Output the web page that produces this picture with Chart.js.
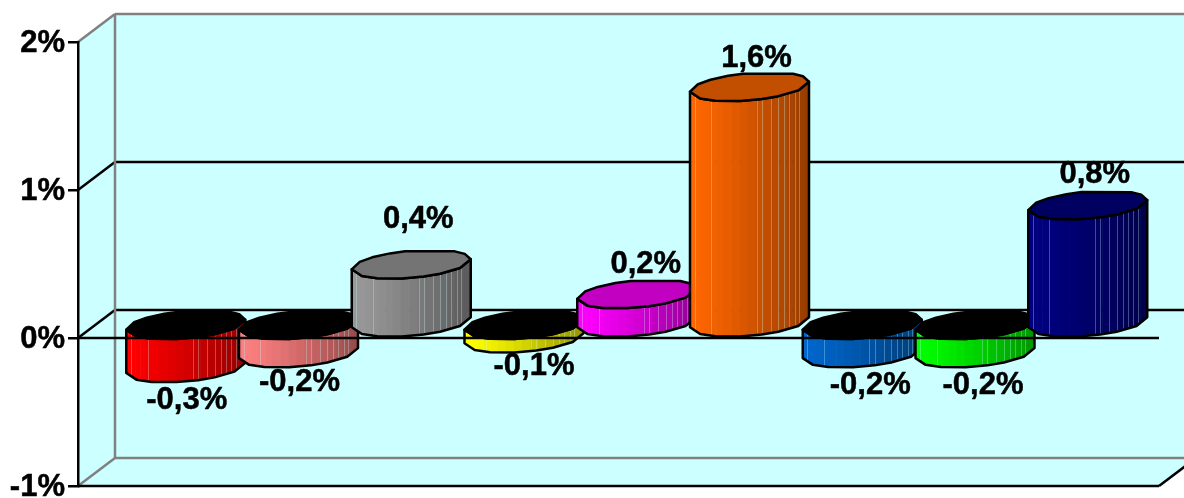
<!DOCTYPE html>
<html lang="fr">
<head>
    <meta charset="UTF-8">
    <title>Graphique</title>
    <style>
        html, body { margin: 0; padding: 0; background: #fff; overflow: hidden; }
        canvas { display: block; }
    </style>
</head>
<body>
    <canvas id="chart" width="1184" height="498"></canvas>

    <script src="https://cdn.jsdelivr.net/npm/chart.js@4"></script>
    <script>
        // Valeurs
        const valeurs = [-0.3, -0.2, 0.4, -0.1, 0.2, 1.6, -0.2, -0.2, 0.8];
        const couleurs = ['#ff0000', '#ff8080', '#999999', '#ffff00', '#ff00ff', '#ff6600', '#0066cc', '#00ff00', '#000080'];
        const graduations = [-1, 0, 1, 2];

        // Perspective du fond et du cylindre
        const PROF_X = 37, PROF_Y = -28;
        const ELL_B = 13.6, ELL_S = -5, ELL_H = 14.5;
        const FOND = '#ccffff', GRIS = '#808080', NOIR = '#000000';
        const POLICE = 'bold 31px "Liberation Sans", Arial, sans-serif';

        // Sommets du contour (en degrés), irréguliers comme sur l'original
        const sommetsAvant = [180, 146, 125, 99, 78, 61, 35, 0];
        const sommetsArriere = [0, -26, -43, -96, -111, -131, -150, -180];

        // Petits décalages des étiquettes (la 3e est plus haute sur l'original)
        const decalagesEtiquettes = [[1, 18], [1, 15], [7, -59], [10, 14], [9, -44], [7, -43], [8, 18], [8, 18], [7, -45]];
        const facettesClaires = [157, 130, 83, 78, 69, 61, 54, 48, 40, 33];

        function ligne(ctx, x1, y1, x2, y2, couleur, largeur) {
            ctx.strokeStyle = couleur;
            ctx.lineWidth = largeur;
            ctx.beginPath();
            ctx.moveTo(x1, y1);
            ctx.lineTo(x2, y2);
            ctx.stroke();
        }

        function assombrir(hex, f) {
            const n = parseInt(hex.slice(1), 16);
            return `rgb(${((n >> 16) & 255) * f},${((n >> 8) & 255) * f},${(n & 255) * f})`;
        }

        function pointEllipse(cx, cy, a, deg) {
            const t = deg * Math.PI / 180;
            return [cx + a * Math.cos(t), cy + ELL_B * Math.sin(t) + ELL_S * Math.cos(t)];
        }

        // Le corps du cylindre : côté gauche, bas avant, côté droit
        function cheminCorps(ctx, cx, yHaut, yBas, a) {
            ctx.beginPath();
            sommetsAvant.forEach(d => {
                const p = pointEllipse(cx, yBas, a, d);
                ctx.lineTo(p[0], p[1]);
            });
            sommetsAvant.slice().reverse().forEach(d => {
                const p = pointEllipse(cx, yHaut, a, d);
                ctx.lineTo(p[0], p[1]);
            });
            ctx.closePath();
        }

        function dessinerCylindre(ctx, el) {
            const a = el.width / 2;
            const cx = el.x;
            const yHaut = Math.min(el.y, el.base) - ELL_H;
            const yBas = Math.max(el.y, el.base) - ELL_H;
            const couleur = el.options.backgroundColor;

            ctx.save();
            cheminCorps(ctx, cx, yHaut, yBas, a);
            ctx.clip();
            for (let d = 180; d > 0; d -= 8) {
                const x1 = cx + a * Math.cos(d * Math.PI / 180);
                const x2 = cx + a * Math.cos((d - 8) * Math.PI / 180);
                const frac = (x1 + x2) / 2 - (cx - a);
                ctx.fillStyle = assombrir(couleur, 1 - 0.42 * Math.pow(frac / (2 * a), 1.3));
                ctx.fillRect(x1, yHaut - 20, x2 - x1 + 0.6, yBas - yHaut + 60);
            }
            // Fentes claires entre les facettes
            facettesClaires.forEach(d => {
                const x = Math.round(cx + a * Math.cos(d * Math.PI / 180)) + 0.5;
                ligne(ctx, x, yHaut - 20, x, yBas + 40, 'rgba(204,255,255,0.3)', 1);
            });
            ctx.restore();

            cheminCorps(ctx, cx, yHaut, yBas, a);
            ctx.strokeStyle = NOIR;
            ctx.lineWidth = 2.5;
            ctx.lineJoin = 'round';
            ctx.stroke();

            // Le dessus, noir pour les valeurs négatives
            ctx.beginPath();
            sommetsArriere.concat(sommetsAvant).forEach(d => {
                const p = pointEllipse(cx, yHaut, a, d);
                ctx.lineTo(p[0], p[1]);
            });
            ctx.closePath();
            ctx.fillStyle = el.y > el.base ? NOIR : assombrir(couleur, 0.76);
            ctx.fill();
            ctx.stroke();
        }

        const decor3d = {
            id: 'decor3d',
            // Avant les axes, pour que l'axe vertical reste noir par-dessus le fond
            beforeDraw(chart) {
                const ctx = chart.ctx, y = chart.scales.y, g = chart.chartArea.left, d = chart.chartArea.right;
                const haut = y.getPixelForValue(graduations[graduations.length - 1]);
                const bas = y.getPixelForValue(graduations[0]);

                ctx.save();
                ctx.fillStyle = FOND;
                ctx.beginPath();
                ctx.moveTo(g, haut);
                ctx.lineTo(g + PROF_X, haut + PROF_Y);
                ctx.lineTo(d + PROF_X, haut + PROF_Y);
                ctx.lineTo(d + PROF_X, bas + PROF_Y);
                ctx.lineTo(d, bas);
                ctx.lineTo(g, bas);
                ctx.closePath();
                ctx.fill();

                graduations.slice(1, -1).forEach(v => {
                    const py = y.getPixelForValue(v);
                    ligne(ctx, g, py, g + PROF_X, py + PROF_Y, NOIR, 2.5);
                    ligne(ctx, g + PROF_X, py + PROF_Y, d + PROF_X, py + PROF_Y, NOIR, 2.5);
                });
                ligne(ctx, g, haut, g + PROF_X, haut + PROF_Y, GRIS, 2.5);
                ligne(ctx, g + PROF_X, haut + PROF_Y, d + PROF_X, haut + PROF_Y, GRIS, 2.5);
                ligne(ctx, g + PROF_X, haut + PROF_Y, g + PROF_X, bas + PROF_Y, GRIS, 2.5);
                ligne(ctx, g, bas, g + PROF_X, bas + PROF_Y, GRIS, 2.5);
                ligne(ctx, g + PROF_X, bas + PROF_Y, d + PROF_X, bas + PROF_Y, GRIS, 2.5);
                ligne(ctx, g, bas, d, bas, NOIR, 2.5);
                ligne(ctx, d, bas, d + PROF_X, bas + PROF_Y, NOIR, 2.5);
                ctx.restore();
            },
            // Les barres sont dessinées en cylindres plus bas
            beforeDatasetDraw() {
                return false;
            },
            afterDatasetsDraw(chart) {
                const ctx = chart.ctx, y = chart.scales.y;
                const barres = chart.getDatasetMeta(0).data;
                ctx.save();
                barres.forEach(el => dessinerCylindre(ctx, el));

                const zero = y.getPixelForValue(0);
                ligne(ctx, chart.chartArea.left, zero, chart.chartArea.right, zero, NOIR, 2.5);

                ctx.font = POLICE;
                ctx.fillStyle = NOIR;
                ctx.strokeStyle = NOIR;
                ctx.lineWidth = 0.5;
                ctx.textAlign = 'center';
                ctx.textBaseline = 'middle';
                barres.forEach((el, i) => {
                    const texte = valeurs[i].toFixed(1).replace('.', ',') + '%';
                    ctx.fillText(texte, el.x + decalagesEtiquettes[i][0], el.y + decalagesEtiquettes[i][1]);
                    ctx.strokeText(texte, el.x + decalagesEtiquettes[i][0], el.y + decalagesEtiquettes[i][1]);
                });
                ctx.restore();
            }
        };

        new Chart(document.getElementById('chart'), {
            type: 'bar',
            data: {
                datasets: [{
                    data: valeurs.map((v, i) => ({ x: i, y: v })),
                    backgroundColor: couleurs,
                    barThickness: 119
                }]
            },
            options: {
                responsive: false,
                animation: false,
                devicePixelRatio: 1,
                layout: { padding: { top: 42, bottom: 12, right: 25, left: 0 } },
                plugins: { legend: { display: false }, tooltip: { enabled: false } },
                scales: {
                    x: { type: 'linear', display: false, offset: false, min: -0.9557, max: 8.632 },
                    y: {
                        min: -1,
                        max: 2,
                        afterFit(scale) {
                            scale.width = 78;
                            scale.paddingTop = 0;
                            scale.paddingBottom = 0;
                        },
                        afterBuildTicks(scale) { scale.ticks = graduations.map(v => ({ value: v })); },
                        border: { display: true, color: NOIR, width: 2.5 },
                        grid: { drawOnChartArea: false, drawTicks: true, tickLength: 10, color: NOIR, lineWidth: 2.5 },
                        ticks: {
                            color: NOIR,
                            padding: 3,
                            labelOffset: 1.5,
                            textStrokeColor: NOIR,
                            textStrokeWidth: 0.5,
                            font: { family: '"Liberation Sans", Arial, sans-serif', size: 31, weight: 'bold' },
                            callback: v => v + '%'
                        }
                    }
                }
            },
            plugins: [decor3d]
        });
    </script>
</body>
</html>
